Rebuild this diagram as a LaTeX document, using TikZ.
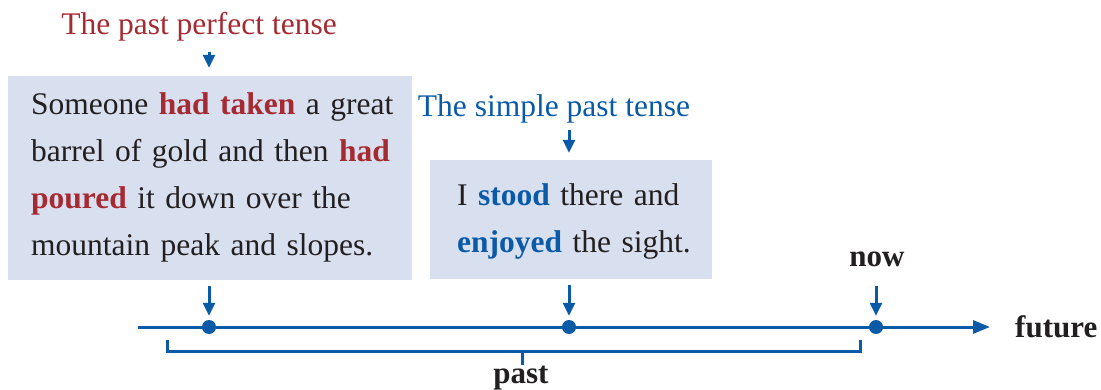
\documentclass[tikz,border=0pt]{standalone}
\usepackage{fontspec}
\setmainfont{Liberation Serif}
\usetikzlibrary{arrows.meta}
\definecolor{tensered}{HTML}{A52A32}
\definecolor{tenseblue}{HTML}{0B5AA8}
\definecolor{boxfill}{HTML}{D8E0EF}
\definecolor{ink}{HTML}{231F20}
\newcommand{\perfverb}[1]{\textcolor{tensered}{\textbf{#1}}}
\newcommand{\simpverb}[1]{\textcolor{tenseblue}{\textbf{#1}}}
\tikzset{
    tensebox/.style ={
        shape=rectangle,
        fill=boxfill,
        inner sep=0pt
    },
    boxtext/.style ={
        anchor=base west,
        inner sep=0pt,
        text=ink,
        font=\fontsize{31.5}{47}\selectfont
    },
    redtitle/.style ={
        anchor=base,
        inner sep=0pt,
        text=tensered,
        font=\fontsize{31.5}{38}\selectfont
    },
    bluetitle/.style ={
        anchor=base,
        inner sep=0pt,
        text=tenseblue,
        font=\fontsize{31.5}{38}\selectfont
    },
    timelabel/.style ={
        inner sep=0pt,
        text=ink,
        font=\fontsize{31}{38}\selectfont\bfseries
    },
    event/.style ={
        shape=circle,
        fill=tenseblue,
        inner sep=0pt,
        minimum size=14pt
    },
    pointer/.style ={
        draw=tenseblue,
        line width=3pt,
        -{Triangle[length=13pt,width=12pt]}
    },
    axis/.style ={
        draw=tenseblue,
        line width=3pt
    }
}
\begin{document}
\begin{tikzpicture}[x=1pt,y=-1pt]
    \useasboundingbox (0,0) rectangle (1101,390);
    \node[tensebox, minimum width=404pt, minimum height=204pt] (perfbox) at (210,178) {};
    \node[tensebox, minimum width=282pt, minimum height=119pt] (simpbox) at (571,219.5) {};
    \node[redtitle] (perftitle) at (199,35) {The past perfect tense};
    \node[bluetitle] (simptitle) at (554,117) {The simple past tense};
    \node[boxtext, text width=362pt] (perftext) at (31,115) {%
        \makebox[\linewidth][s]{Someone \perfverb{had taken} a great}\\
        \makebox[\linewidth][s]{barrel of gold and then \perfverb{had}}\\
        \makebox[\linewidth][s]{\perfverb{poured} it down over the}\\
        mountain peak and slopes.};
    \node[boxtext, text width=240pt] (simptext) at (457,206) {%
        I \simpverb{stood} there and\\
        \simpverb{enjoyed} the sight.};
    \node[event] (perfdot) at (209,327) {};
    \node[event] (simpdot) at (569,327) {};
    \node[event] (nowdot) at (876,327) {};
    \node[timelabel, anchor=base] (now) at (877,267) {now};
    \node[timelabel, anchor=base west] (future) at (1015,337) {future};
    \node[timelabel, anchor=base] (past) at (521,383) {past};
    \coordinate (axisstart) at (138,327);
    \coordinate (axisend) at (990,327);
    \coordinate (pastleft) at (167,340);
    \coordinate (pastright) at (860,340);
    \coordinate (pastmid) at (522,351);
    \draw[axis, -{Triangle[length=17pt,width=13pt]}] (axisstart) -- (axisend);
    \draw[axis] (pastleft) |- (pastmid) -| (pastright);
    \draw[axis] (pastmid) -- (past.north -| pastmid);
    \draw[pointer, shorten <=10pt, shorten >=8pt] (perftitle.south -| perfdot) -- (perfbox.north -| perfdot);
    \draw[pointer, shorten <=6pt, shorten >=7pt] (simptitle.south -| simpdot) -- (simpbox.north -| simpdot);
    \draw[pointer, shorten <=6pt, shorten >=4pt] (perfbox.south -| perfdot) -- (perfdot);
    \draw[pointer, shorten <=6pt, shorten >=4pt] (simpbox.south -| simpdot) -- (simpdot);
    \draw[pointer, shorten <=18pt, shorten >=4pt] (now.south -| nowdot) -- (nowdot);
\end{tikzpicture}
\end{document}
